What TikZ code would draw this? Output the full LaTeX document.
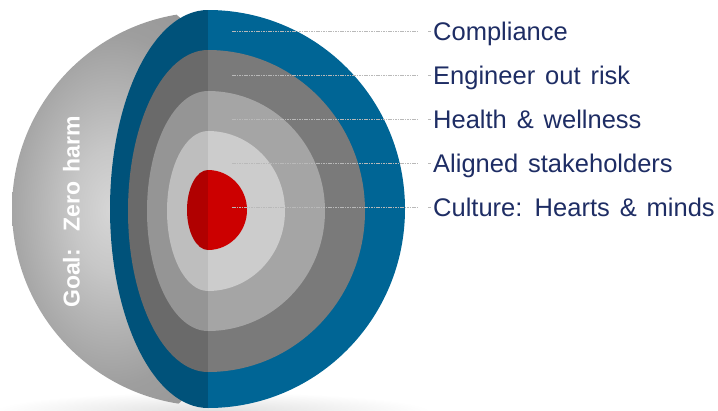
\documentclass[tikz,border=0pt]{standalone}
\usepackage{fontspec}
\setmainfont{Liberation Sans}[WordSpace=1.4]
\definecolor{blueL}{RGB}{0,101,149}
\definecolor{blueD}{RGB}{0,82,122}
\definecolor{g1L}{RGB}{122,122,122}
\definecolor{g1D}{RGB}{106,106,106}
\definecolor{g2L}{RGB}{165,165,165}
\definecolor{g2D}{RGB}{149,149,149}
\definecolor{g3L}{RGB}{204,204,204}
\definecolor{g3D}{RGB}{190,190,190}
\definecolor{redL}{RGB}{204,0,0}
\definecolor{redD}{RGB}{176,0,0}
\definecolor{navy}{RGB}{30,45,100}
\definecolor{leadc}{RGB}{185,185,185}
\pgfdeclareradialshading{sph}{\pgfpoint{0bp}{0bp}}{rgb(0bp)=(0.84,0.84,0.84); rgb(7bp)=(0.78,0.78,0.78); rgb(20bp)=(0.62,0.62,0.62); rgb(35bp)=(0.56,0.56,0.56); rgb(50bp)=(0.54,0.54,0.54)}
\pgfdeclareradialshading{shadow}{\pgfpoint{0bp}{0bp}}{rgb(0bp)=(0.87,0.87,0.87); rgb(25bp)=(1,1,1); rgb(50bp)=(1,1,1)}
\tikzset{
  lab/.style={anchor=west, inner sep=0pt, text height=18pt, text depth=0pt,
    text=navy, font=\fontsize{25.5}{28}\selectfont},
  leader/.style={draw=leadc, line width=0.9pt, dash pattern=on 1.6pt off 0.8pt},
}
\begin{document}
\begin{tikzpicture}[x=1pt,y=-1pt]
\useasboundingbox (0,0) rectangle (718,410);
% soft floor shadow
\shade[shading=shadow] (212,412) ellipse [x radius=220, y radius=20];
% sphere body
\begin{scope}
  \clip (209,209) circle [radius=197];
  \shade[shading=sph] (112,210) ellipse [x radius=140, y radius=220];
\end{scope}
% layers: left (darker) and right (lighter) halves
\fill[blueD] (208,10) arc[start angle=270, end angle=90, x radius=98, y radius=199] -- cycle;
\fill[blueL] (208,10) arc[start angle=-90, end angle=90, x radius=197, y radius=199] -- cycle;
\fill[g1D] (208,50) arc[start angle=270, end angle=90, x radius=80, y radius=161] -- cycle;
\fill[g1L] (208,50) arc[start angle=-90, end angle=90, x radius=157, y radius=161] -- cycle;
\fill[g2D] (208,91) arc[start angle=270, end angle=90, x radius=61, y radius=120] -- cycle;
\fill[g2L] (208,91) arc[start angle=-90, end angle=90, x radius=117, y radius=120] -- cycle;
\fill[g3D] (208,131) arc[start angle=270, end angle=90, x radius=41, y radius=80] -- cycle;
\fill[g3L] (208,131) arc[start angle=-90, end angle=90, x radius=77, y radius=80] -- cycle;
\fill[redD] (208,170) arc[start angle=270, end angle=90, x radius=21, y radius=40] -- cycle;
\fill[redL] (208,170) arc[start angle=-90, end angle=90, x radius=39, y radius=40] -- cycle;
% goal text
\node[rotate=90, text=white, inner sep=0pt, font=\bfseries\fontsize{23}{26}\selectfont] (goal) at (71.5,212) {Goal:\ \ Zero harm};
% labels
\coordinate (s1) at (232,31);
\coordinate (s2) at (232,75);
\coordinate (s3) at (232,119);
\coordinate (s4) at (232,163);
\coordinate (s5) at (232,207);
\node[lab] (l1) at (433,31) {Compliance};
\node[lab] (l2) at (433,75) {Engineer out risk};
\node[lab] (l3) at (433,119) {Health \& wellness};
\node[lab] (l4) at (433,163) {Aligned stakeholders};
\node[lab] (l5) at (433,207) {Culture: Hearts \& minds};
\foreach \i in {1,...,5}{
  \draw[leader] (s\i) -- ([xshift=-15pt]l\i.west);
  \draw[leader] ([xshift=-5pt]l\i.west) -- ([xshift=-2pt]l\i.west);
}
\end{tikzpicture}
\end{document}
